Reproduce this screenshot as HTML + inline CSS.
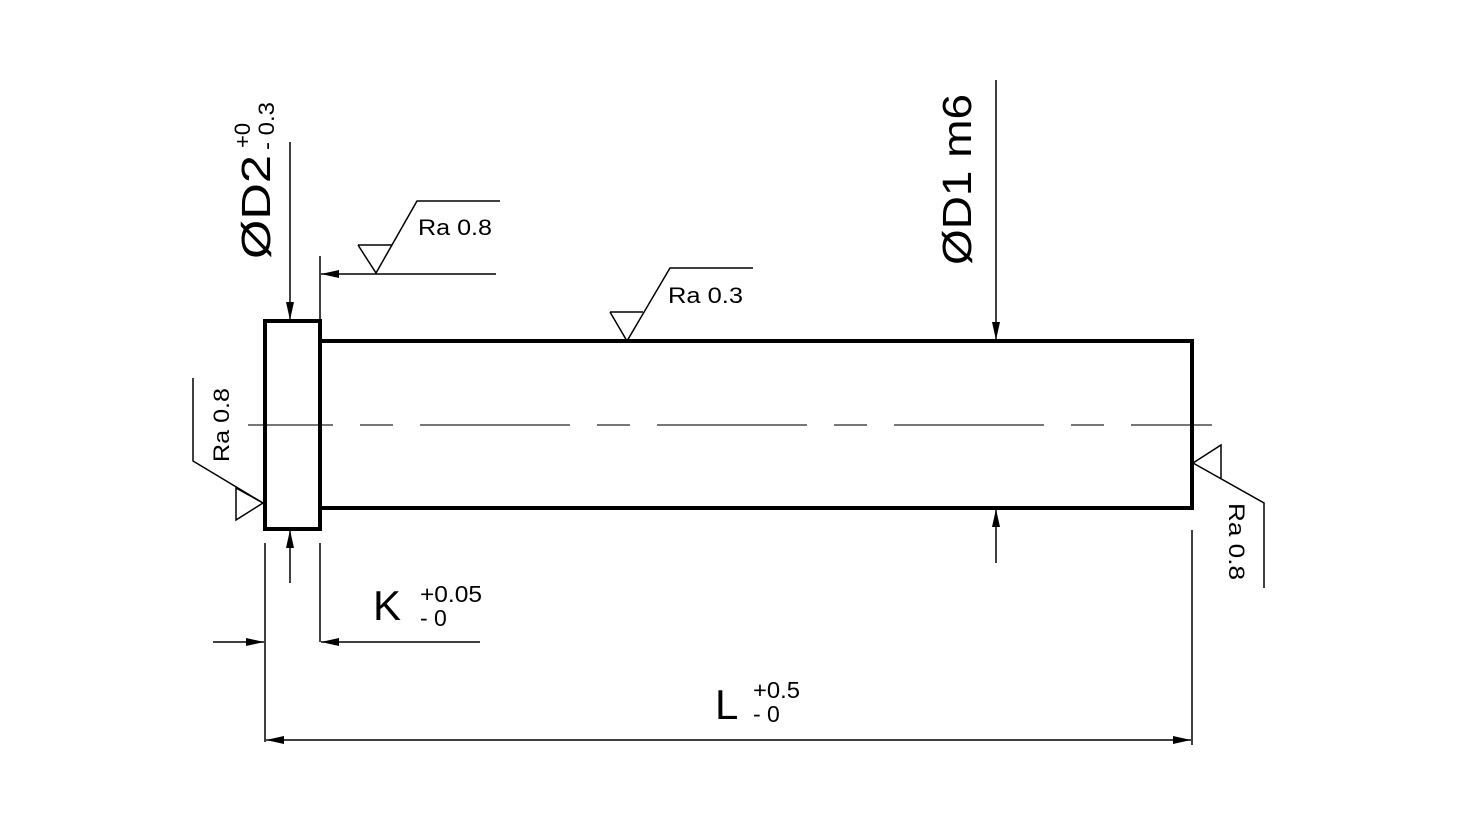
<!DOCTYPE html>
<html><head><meta charset="utf-8"><style>
html,body{margin:0;padding:0;background:#fff;}
svg{display:block;}
text{font-family:"Liberation Sans",sans-serif;fill:#000;}
</style></head><body>
<svg width="1458" height="825" viewBox="0 0 1458 825" xmlns="http://www.w3.org/2000/svg">
<defs>
<marker id="a" viewBox="0 0 18 8" refX="18" refY="4" markerWidth="18" markerHeight="8" markerUnits="userSpaceOnUse" orient="auto">
<path d="M0,0 L18,4 L0,8 Z" fill="#000"/>
</marker>
</defs>
<line x1="248" y1="425" x2="1212" y2="425" stroke="#777" stroke-width="2" stroke-dasharray="150 27 33 27" stroke-dashoffset="65"/>
<rect x="265" y="321" width="55" height="208" fill="none" stroke="#000" stroke-width="4"/>
<polyline points="320,341 1192,341 1192,508 320,508" fill="none" stroke="#000" stroke-width="4"/>

<g stroke="#000" stroke-width="1.5" fill="none">
<line x1="290" y1="142" x2="290" y2="320" marker-end="url(#a)"/>
<line x1="290" y1="583" x2="290" y2="530" marker-end="url(#a)"/>
<line x1="320" y1="256" x2="320" y2="320"/>
<line x1="496" y1="274" x2="321" y2="274" marker-end="url(#a)"/>
<polyline points="358,245 392,245"/>
<polyline points="358,245 376,273 417,201 500,201"/>
<polyline points="610,312 643,312"/>
<polyline points="610,312 627,341 670,268 753,268"/>
<line x1="996" y1="80" x2="996" y2="340" marker-end="url(#a)"/>
<line x1="996" y1="563" x2="996" y2="509" marker-end="url(#a)"/>
<polyline points="193,378 193,461 263,503"/>
<polyline points="263,503 236,488 236,520 263,503"/>
<polyline points="1193,463 1221,445 1221,478"/>
<polyline points="1193,463 1264,503 1264,588"/>
<line x1="265" y1="543" x2="265" y2="742"/>
<line x1="320" y1="543" x2="320" y2="642"/>
<line x1="213" y1="642" x2="264" y2="642" marker-end="url(#a)"/>
<line x1="480" y1="642" x2="321" y2="642" marker-end="url(#a)"/>
<line x1="1192" y1="530" x2="1192" y2="745"/>
<line x1="400" y1="740" x2="266" y2="740" marker-end="url(#a)"/>
<line x1="400" y1="740" x2="1191" y2="740" marker-end="url(#a)"/>
</g>

<text x="418" y="235" font-size="22" textLength="74" lengthAdjust="spacingAndGlyphs">Ra 0.8</text>
<text x="668" y="303" font-size="22" textLength="75" lengthAdjust="spacingAndGlyphs">Ra 0.3</text>
<text transform="translate(229,462) rotate(-90)" font-size="22" textLength="74" lengthAdjust="spacingAndGlyphs">Ra 0.8</text>
<text transform="translate(1229,503) rotate(90)" font-size="22" textLength="77" lengthAdjust="spacingAndGlyphs">Ra 0.8</text>

<text transform="translate(270,259) rotate(-90)" font-size="41" textLength="104" lengthAdjust="spacingAndGlyphs">ØD2</text>
<text transform="translate(250,148) rotate(-90)" font-size="22">+0</text>
<text transform="translate(274,150) rotate(-90)" font-size="22" textLength="48" lengthAdjust="spacingAndGlyphs">- 0.3</text>

<text transform="translate(971,265) rotate(-90)" font-size="41" textLength="171" lengthAdjust="spacingAndGlyphs">ØD1 m6</text>

<text x="373" y="620" font-size="42">K</text>
<text x="420" y="602" font-size="23" textLength="62" lengthAdjust="spacingAndGlyphs">+0.05</text>
<text x="420" y="626" font-size="23">- 0</text>

<text x="715" y="719" font-size="42">L</text>
<text x="753" y="698" font-size="23" textLength="47" lengthAdjust="spacingAndGlyphs">+0.5</text>
<text x="753" y="722" font-size="23">- 0</text>
</svg>
</body></html>
